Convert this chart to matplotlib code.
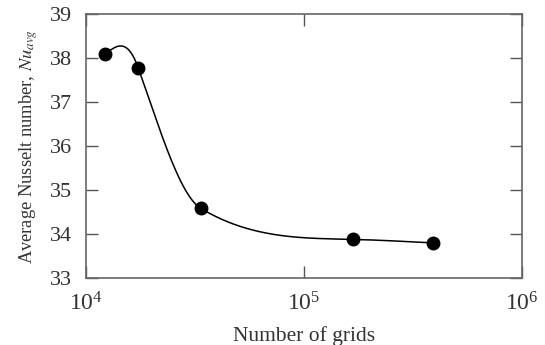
import matplotlib
matplotlib.use("Agg")
import matplotlib.pyplot as plt
import matplotlib.ticker as ticker
import numpy as np

# данные
grids = [12260, 17320, 33500, 168300, 391800]
nu_avg = [38.10, 37.79, 34.59, 33.88, 33.80]
# наклон сглаживающей кривой dNu/dlog10(N) в точках, по рисунку
slopes = [4.0, -14.0, -3.0, -0.12, -0.25]


def hermite(x, y, d, xs):
    # кубическая эрмитова кривая через точки (в лог-координатах по x)
    x = np.asarray(x, float)
    y = np.asarray(y, float)
    d = np.asarray(d, float)
    h = np.diff(x)
    idx = np.clip(np.searchsorted(x, xs) - 1, 0, len(x) - 2)
    t = (xs - x[idx]) / h[idx]
    h00 = 2 * t ** 3 - 3 * t ** 2 + 1
    h10 = t ** 3 - 2 * t ** 2 + t
    h01 = -2 * t ** 3 + 3 * t ** 2
    h11 = t ** 3 - t ** 2
    return (h00 * y[idx] + h10 * h[idx] * d[idx]
            + h01 * y[idx + 1] + h11 * h[idx] * d[idx + 1])


plt.rcParams['font.family'] = ['Liberation Serif', 'DejaVu Serif']
plt.rcParams['mathtext.fontset'] = 'stix'

fig = plt.figure(figsize=(5.45, 3.45), dpi=100)
ax = fig.add_axes([0.158, 0.194, 0.800, 0.764])

lx = np.log10(grids)
xs = np.linspace(lx[0], lx[-1], 400)
ys = hermite(lx, nu_avg, slopes, xs)
ax.plot(10 ** xs, ys, color='k', linewidth=1.1)
ax.plot(grids, nu_avg, 'o', color='k', markersize=9)

ax.set_xscale('log')
ax.set_xlim(1e4, 1e6)
ax.set_ylim(33, 39)
ax.xaxis.set_major_locator(ticker.LogLocator(base=10, numticks=5))
ax.xaxis.set_minor_locator(ticker.NullLocator())
ax.xaxis.set_major_formatter(ticker.LogFormatterMathtext())
ax.yaxis.set_major_locator(ticker.MultipleLocator(1))

ax.tick_params(which='major', direction='in', length=8.5, width=1.0,
               top=True, right=True, color='#555555',
               labelsize=16, labelcolor='#333333', pad=10)
ax.tick_params(axis='x', pad=10, labelsize=17)
for s in ax.spines.values():
    s.set_color('#666666')
    s.set_linewidth(1.2)

ax.set_xlabel("Number of grids", fontsize=15.5, color='#333333', labelpad=8)
ax.set_ylabel(r"Average Nusselt number, $\mathit{Nu}_{\mathit{avg}}$",
              fontsize=13.3, color='#333333', labelpad=7.5)

fig.savefig("out.png", dpi=100)
